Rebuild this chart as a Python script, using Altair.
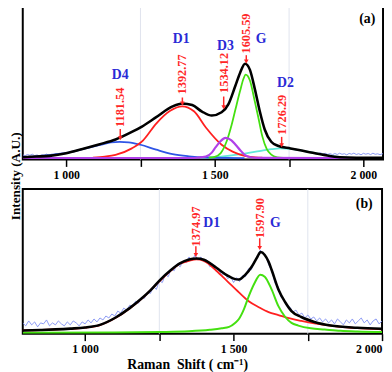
import altair as alt
import pandas as pd

FONT = "Liberation Serif"
RED = "#ff2626"
BLUE_TXT = "#2a2ad6"

# ---------------- Panel (a) ----------------
a_xdom = [854, 2066]
a_ydom = [-1.5, 154.5]
a_grid = [1250, 1750]

a_fit_x = [854, 900, 944, 1000, 1055, 1110, 1166, 1221, 1255, 1303, 1358, 1391, 1424, 1457, 1490,
           1523, 1546, 1569, 1585, 1602, 1618, 1635, 1651, 1668, 1690, 1712, 1755, 1811, 1867, 1921, 1977, 2066]
a_fit_y = [0.8, 1.5, 2.2, 4.8, 9.2, 13.8, 18.8, 26.5, 32, 41.5, 52.5, 55.5, 53.8, 47.2, 43.2,
           46.5, 54.8, 73.2, 86.5, 95.8, 89.8, 69.8, 48, 29, 16.5, 12.5, 9.8, 6.5, 3.2, 0.8, 0.3, 0.2]

a_d1_x = [1090, 1130, 1166, 1221, 1259, 1303, 1350, 1390, 1430, 1470, 1523, 1560, 1585, 1620, 1660]
a_d1_y = [0.5, 1.5, 3.2, 9.8, 18, 35, 48, 52.5, 47.5, 31, 13.5, 6.5, 3.5, 1.2, 0.3]

a_d4_x = [854, 900, 950, 1000, 1055, 1110, 1150, 1180, 1210, 1250, 1303, 1358, 1413, 1470, 1540, 1600]
a_d4_y = [1, 1.8, 3.2, 5.2, 9, 13, 15.8, 16.5, 16, 13.5, 8.5, 4, 1.8, 0.6, 0.2, 0]

a_d3_x = [854, 1420, 1440, 1470, 1490, 1503, 1519, 1536, 1556, 1570, 1585, 1602, 1620, 1650, 2066]
a_d3_y = [0, 0, 0.3, 1.5, 5.5, 11, 17, 20.5, 18, 13.5, 8.2, 3, 0.8, 0.2, 0]

a_g_x = [1480, 1500, 1520, 1540, 1557, 1570, 1585, 1596, 1604, 1618, 1635, 1646, 1660, 1675, 1690, 1710, 1730]
a_g_y = [0.3, 1.2, 5, 17, 34, 50, 68, 80, 84.8, 79, 57, 42, 22, 9, 3.5, 0.8, 0.2]

a_d2_x = [1450, 1500, 1550, 1600, 1650, 1690, 1720, 1755, 1811, 1867, 1921, 1977]
a_d2_y = [0.3, 1, 2.5, 4.5, 7, 9, 9.8, 9.3, 6.5, 3.2, 1, 0.2]

a_raw_left_x = [854, 862, 870, 878, 886, 894, 902, 910, 918, 926, 934, 942, 950, 958, 966, 974, 982, 990,
                998, 1006, 1014, 1022, 1030, 1040]
a_raw_left_y = [3.2, 2.4, 3.6, 2.8, 3.9, 2.5, 3.1, 2.2, 3.5, 2.9, 4.0, 3.0, 3.8, 3.3, 4.4, 3.6, 4.6, 4.2,
                5.3, 5.2, 6.3, 6.4, 7.4, 8.0]
a_raw_right_x = [1740, 1750, 1760, 1770, 1780, 1790, 1800, 1810, 1820, 1830, 1840, 1848, 1856, 1864, 1872,
                 1880, 1888, 1896, 1904, 1912, 1920, 1928, 1936, 1944, 1952, 1960, 1968, 1976, 1984, 1992,
                 2000, 2008, 2016, 2024, 2032, 2040, 2048, 2056, 2066]
a_raw_right_y = [10.5, 10, 9.2, 8.6, 8.3, 7.5, 7.2, 6.3, 6.0, 5.6, 5.0, 4.6, 5.3, 4.1, 4.8,
                 3.7, 4.5, 3.4, 4.6, 3.6, 4.9, 3.8, 4.4, 3.2, 4.7, 3.9, 5.0, 3.6, 4.4, 3.3,
                 4.8, 3.9, 4.6, 3.5, 4.9, 3.8, 4.3, 3.4, 4.5]

a_lab = ["D4", "D1", "D3", "G", "D2"]
a_lab_x = [1182, 1387, 1536, 1656, 1738]
a_lab_y = [84.5, 120.5, 113.5, 120.5, 76.5]
a_pk = ["1181.54", "1392.77", "1534.12", "1605.59", "1726.29"]
a_pk_x = [1182, 1391, 1530, 1606, 1725]
a_pk_y = [51.5, 85, 86.5, 126.5, 44]
a_arrow_top = [29.5, 61.5, 62.5, 104.5, 21.5]
a_arrow_tip = [20, 55.5, 51.5, 98, 13]

# ---------------- Panel (b) ----------------
b_xdom = [790, 2000]
b_ydom = [-1, 146]
b_grid = [1250, 1750]

b_fit_x = [790, 850, 900, 950, 1000, 1050, 1103, 1150, 1193, 1220, 1252, 1290, 1319, 1350, 1375, 1400,
           1442, 1480, 1500, 1518, 1540, 1561, 1580, 1591, 1605, 1618, 1628, 1651, 1674, 1695, 1728,
           1772, 1827, 1917, 2000]
b_fit_y = [2.3, 2.8, 3.4, 4.2, 5.3, 8, 15.5, 25, 35.5, 43, 53.5, 64, 70.5, 74.5, 75.5, 74.2,
           66, 58, 55, 54, 59, 67, 77, 82, 79, 72, 64, 44, 31, 22, 16,
           11, 7.3, 5, 4]

b_d1_x = [790, 900, 1000, 1050, 1103, 1150, 1193, 1252, 1290, 1319, 1350, 1375, 1400, 1442, 1480,
          1518, 1551, 1585, 1618, 1651, 1690, 1728, 1772, 1807, 1860, 1917, 2000]
b_d1_y = [2.3, 3.3, 5.2, 7.8, 15.2, 24.7, 35.2, 52.8, 63.3, 70, 73, 74.5, 73, 63, 52,
          41, 32, 26, 21, 18, 14.5, 12, 9.5, 8, 6, 4.7, 3.5]

b_g_x = [790, 1100, 1250, 1350, 1420, 1460, 1485, 1505, 1518, 1535, 1551, 1570, 1590, 1605, 1628,
         1651, 1674, 1695, 1718, 1760, 1807, 1860, 1917, 2000]
b_g_y = [0, 0.2, 0.7, 1.5, 3, 4.5, 6, 10, 14, 24, 37, 50, 59, 57, 44,
         27, 16, 10, 7.3, 4.5, 3.3, 2, 1.3, 0.8]

b_raw_x = list(range(790, 2001, 10))
b_raw_y = [10, 7, 12, 8, 11, 6, 10, 9, 13, 7, 10, 8, 12, 9, 7, 11, 8, 12, 10, 7, 11,
           9, 13, 10, 14, 11, 15, 13, 17, 15, 19, 17, 22, 20, 25, 23, 28, 27, 32, 30, 36,
           35, 41, 40, 47, 44, 53, 51, 59, 57, 65, 63, 70, 67, 73, 71, 77, 73, 79, 74, 77,
           72, 74, 67, 70, 63, 65, 58, 61, 55, 57, 51, 56, 52, 58, 57, 65, 64, 73, 76, 84,
           80, 77, 68, 62, 50, 47, 36, 34, 27, 26, 21, 23, 18, 20, 15, 18, 14, 16, 12, 15,
           11, 14, 10, 13, 9, 14, 11, 8, 13, 10, 14, 9, 12, 15, 10, 13, 8, 12, 14, 9, 12]

b_lab = ["D1", "G"]
b_lab_x = [1426, 1641]
b_lab_y = [111, 111]
b_pk = ["1374.97", "1597.90"]
b_pk_x = [1373, 1588]
b_pk_y = [108, 116.5]
b_arrow_top = [88, 96]
b_arrow_tip = [79, 86]

TICKS = [1000, 1250, 1500, 1750, 2000]
LABEL_EXPR = "datum.value % 500 == 0 ? replace(format(datum.value, ','), ',', ' ') : ''"


def xaxis(title=None):
    kw = dict(values=TICKS, labelExpr=LABEL_EXPR, tickSize=7, tickWidth=1.5, tickColor="black",
              domain=False, grid=False, labelFont=FONT, labelFontWeight="bold", labelFontSize=12,
              labelColor="black", labelPadding=3)
    if title:
        kw.update(title=title, titleFont=FONT, titleFontWeight="bold", titleFontSize=14,
                  titleColor="black", titlePadding=3, titleX=167)
    else:
        kw.update(title=None)
    return alt.Axis(**kw)


def panel(xdom, ydom, width, height, grid, curves, raws, labs, pks, tag, axis, ytitle=False):
    X = lambda f="x": alt.X(f + ":Q", scale=alt.Scale(domain=xdom, nice=False, zero=False), axis=axis)
    Y = lambda f="y": alt.Y(f + ":Q", scale=alt.Scale(domain=ydom, nice=False, zero=False), axis=None)
    layers = []
    gdf = pd.DataFrame({"x": grid})
    layers.append(alt.Chart(gdf).mark_rule(color="#dfe3ee", strokeWidth=1).encode(x=X()))
    for xs, ys, seg in raws:
        df = pd.DataFrame({"x": xs, "y": ys, "seg": seg})
        layers.append(alt.Chart(df).mark_line(color="#7f8ff2", strokeWidth=0.9, clip=True)
                      .encode(x=X(), y=Y(), detail="seg:N"))
    for xs, ys, color, w in curves:
        df = pd.DataFrame({"x": xs, "y": ys})
        layers.append(alt.Chart(df).mark_line(color=color, strokeWidth=w, interpolate="monotone", clip=True)
                      .encode(x=X(), y=Y()))
    lt, lx, ly = labs
    ldf = pd.DataFrame({"t": lt, "x": lx, "y": ly})
    layers.append(alt.Chart(ldf).mark_text(font=FONT, fontWeight="bold", fontSize=14, color=BLUE_TXT)
                  .encode(x=X(), y=Y(), text="t:N"))
    pt, px, py, top, tip = pks
    pdf = pd.DataFrame({"t": pt, "x": px, "y": py, "top": top, "tip": tip})
    layers.append(alt.Chart(pdf).mark_text(font=FONT, fontWeight="bold", fontSize=12.5, color=RED,
                                           angle=270, align="center", baseline="middle")
                  .encode(x=X(), y=Y(), text="t:N"))
    layers.append(alt.Chart(pdf).mark_rule(color=RED, strokeWidth=1.5)
                  .encode(x=X(), y=Y("top"), y2="tip:Q"))
    layers.append(alt.Chart(pdf).mark_point(shape="triangle-down", filled=True, color=RED, size=22, opacity=1)
                  .encode(x=X(), y=Y("tip")))
    tt, tx, ty = tag
    tdf = pd.DataFrame({"t": [tt], "x": [tx], "y": [ty]})
    layers.append(alt.Chart(tdf).mark_text(font=FONT, fontWeight="bold", fontSize=14, color="black")
                  .encode(x=X(), y=Y(), text="t:N"))
    if ytitle:
        ydf = pd.DataFrame({"t": ["Intensity (A.U.)"]})
        layers.append(alt.Chart(ydf).mark_text(font=FONT, fontWeight="bold", fontSize=13.5, color="black",
                                               angle=270, align="center", baseline="middle")
                      .encode(text="t:N", x=alt.value(-6.5), y=alt.value(173)))
    return alt.layer(*layers).properties(width=width, height=height)


pa = panel(a_xdom, a_ydom, 366, 156, a_grid,
           [(a_d2_x, a_d2_y, "#5fe8d8", 1.8),
            (a_d4_x, a_d4_y, "#2f55e6", 1.8),
            (a_d1_x, a_d1_y, "#ff2020", 1.8),
            (a_g_x, a_g_y, "#44e010", 1.8),
            (a_d3_x, a_d3_y, "#b040e8", 2.2),
            (a_fit_x, a_fit_y, "black", 2.6)],
           [(a_raw_left_x, a_raw_left_y, "L"), (a_raw_right_x, a_raw_right_y, "R")],
           (a_lab, a_lab_x, a_lab_y),
           (a_pk, a_pk_x, a_pk_y, a_arrow_top, a_arrow_tip),
           ("(a)", 2013, 141.5), xaxis(), ytitle=True)

pb = panel(b_xdom, b_ydom, 365, 147, b_grid,
           [(b_d1_x, b_d1_y, "#ff2020", 1.8),
            (b_g_x, b_g_y, "#44e010", 2.0),
            (b_fit_x, b_fit_y, "black", 2.6)],
           [(b_raw_x, b_raw_y, "A")],
           (b_lab, b_lab_x, b_lab_y),
           (b_pk, b_pk_x, b_pk_y, b_arrow_top, b_arrow_tip),
           ("(b)", 1940, 131), xaxis("Raman\u00a0\u00a0Shift ( cm\u207b\u00b9)"))

chart = (alt.vconcat(pa, pb, spacing=30, bounds="flush")
         .properties(padding={"left": 0, "top": -7, "right": 0, "bottom": 0})
         .configure_view(stroke="black", strokeWidth=2))

chart.save("out.html", embed_options={"renderer": "svg", "actions": False})
